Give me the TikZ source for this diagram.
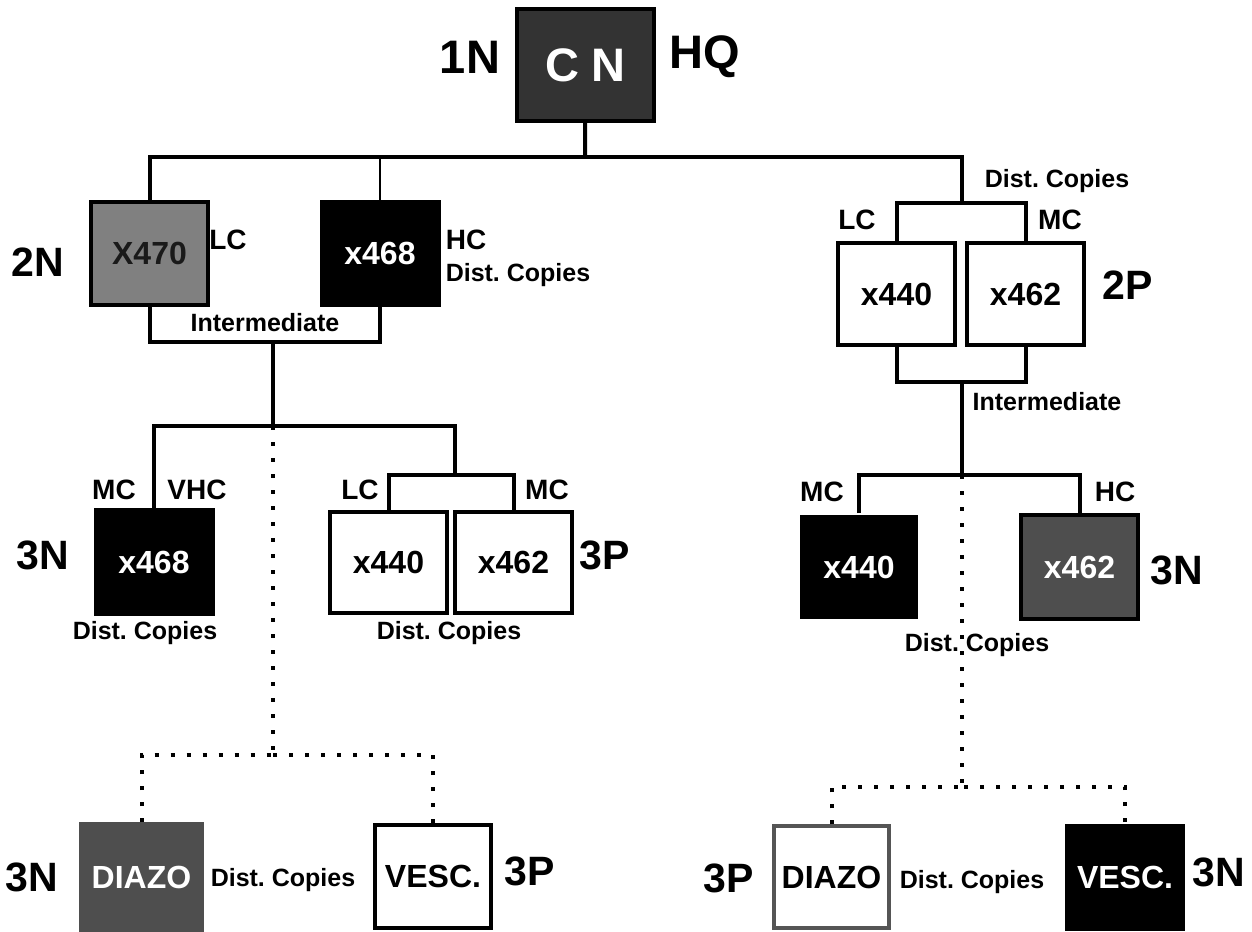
\documentclass[tikz,border=0pt]{standalone}
\usepackage{fontspec}
\setmainfont{Liberation Sans}
\usepackage{tikz}
\usetikzlibrary{positioning}
\definecolor{ink}{RGB}{0,0,0}
\definecolor{hqfill}{RGB}{51,51,51}
\definecolor{lowfill}{RGB}{128,128,128}
\definecolor{highfill}{RGB}{78,78,78}
\definecolor{lowtext}{RGB}{26,26,26}
\definecolor{edgegray}{RGB}{85,85,85}
\tikzset{
    unit/.style={
        rectangle,
        draw=ink,
        line width=4pt,
        fill=white,
        text=ink,
        minimum width=117pt,
        minimum height=103pt,
        inner sep=0pt,
        font=\fontsize{32}{32}\selectfont\bfseries
    },
    unitdark/.style={unit, fill=ink, text=white},
    unitgray/.style={unit, fill=highfill, text=white},
    tier/.style={
        font=\fontsize{41}{41}\selectfont\bfseries,
        text=ink,
        inner sep=0pt
    },
    grade/.style={
        font=\fontsize{28}{28}\selectfont\bfseries,
        text=ink,
        inner sep=0pt
    },
    remark/.style={
        font=\fontsize{25}{25}\selectfont\bfseries,
        text=ink,
        inner sep=0pt
    },
    link/.style={draw=ink, line width=4pt},
    thinlink/.style={draw=ink, line width=1.6pt},
    copylink/.style={draw=ink, line width=4pt, dash pattern=on 4pt off 12pt}
}

\begin{document}
\begin{tikzpicture}[x=1pt, y=-1pt]

\useasboundingbox (0,0) rectangle (1252,931);

% === HEADQUARTERS ===
\node[unit, fill=hqfill, text=white, minimum width=137pt, minimum height=112pt,
    font=\fontsize{47}{47}\selectfont\bfseries] (cn) at (585.5,65) {C N};
\node[tier, font=\fontsize{47}{47}\selectfont\bfseries] (cnlvl) at (470,57) {1N};
\node[tier, font=\fontsize{47}{47}\selectfont\bfseries] (cnhq) at (705,57) {HQ};

\coordinate (bus1) at (585,157);

% === LEFT BRANCH: second generation ===
\node[unit, fill=lowfill, text=lowtext] (xa) at (149.5,253) {X470};
\node[unitdark] (xb) at (380,253) {x468};
\node[tier] (xalvl) at (38,262) {2N};
\node[grade] (xagr) at (228,240) {LC};
\node[grade] (xbgr) at (466,240) {HC};
\node[remark] (xbcp) at (518,275) {Dist.\ Copies};

\draw[link] (cn) -- (bus1);
\draw[link] (xa) |- (bus1);
\draw[thinlink] (xb) -- (xb |- bus1);

\coordinate (lmid) at (273,342);
\draw[link] (xa) |- (lmid);
\draw[link] (xb) |- (lmid);
\node[remark] (lint) at (265,323) {Intermediate};

% === LEFT BRANCH: third generation ===
\coordinate (lbus) at (273,426);
\coordinate (lsub) at (455,475);
\draw[link] (lmid) -- (lbus);

\node[unitdark, minimum height=104pt] (xc) at (154,562) {x468};
\node[unit, minimum height=101pt] (xd) at (388.5,562.5) {x440};
\node[unit, minimum height=101pt] (xe) at (513.5,562.5) {x462};

\draw[link] (xc) |- (lbus);
\draw[link] (lbus) -| (lsub);
\draw[link] (xd) |- (lsub);
\draw[link] (xe) |- (lsub);

\node[grade] (xcgra) at (114,490) {MC};
\node[grade] (xcgrb) at (197,490) {VHC};
\node[tier] (xclvl) at (43,555) {3N};
\node[remark] (xccp) at (145,633) {Dist.\ Copies};
\node[grade] (xdgr) at (360,490) {LC};
\node[grade] (xegr) at (547,490) {MC};
\node[tier] (xelvl) at (605,555) {3P};
\node[remark] (xdcp) at (449,633) {Dist.\ Copies};

% === LEFT BRANCH: print copies ===
\coordinate (ldot) at (273,755);
\node[unitgray, draw=highfill, minimum width=121pt, minimum height=107pt] (da) at (141.5,877.5) {DIAZO};
\node[unit, minimum width=116pt] (va) at (433,876.5) {VESC.};

\draw[copylink] (lbus) -- (ldot);
\draw[copylink] (da) |- (ldot);
\draw[copylink] (va) |- (ldot);

\node[tier] (dalvl) at (32,877) {3N};
\node[remark] (dacp) at (283,880) {Dist.\ Copies};
\node[tier] (valvl) at (530,871) {3P};

% === RIGHT BRANCH: second generation ===
\coordinate (rtop) at (962,203);
\node[unit, minimum height=102pt] (ya) at (896.5,294) {x440};
\node[unit, minimum height=102pt] (yb) at (1025.5,294) {x462};

\draw[link] (bus1) -| (rtop);
\draw[link] (ya) |- (rtop);
\draw[link] (yb) |- (rtop);

\node[remark] (ycp) at (1057,181) {Dist.\ Copies};
\node[grade] (yagr) at (857,220) {LC};
\node[grade] (ybgr) at (1060,220) {MC};
\node[tier] (yblvl) at (1128,285) {2P};

\coordinate (rmid) at (962,382);
\draw[link] (ya) |- (rmid);
\draw[link] (yb) |- (rmid);
\node[remark] (rint) at (1047,402) {Intermediate};

% === RIGHT BRANCH: third generation ===
\coordinate (rbus) at (962,475);
\draw[link] (rmid) -- (rbus);

\node[unitdark, draw=none, minimum width=118pt, minimum height=104pt] (yc) at (859,567) {x440};
\node[unitgray, minimum height=104pt] (yd) at (1079.5,567) {x462};

\draw[link] (yc) |- (rbus);
\draw[link] (yd) |- (rbus);

\node[grade] (ycgr) at (822,492) {MC};
\node[grade] (ydgr) at (1115,492) {HC};
\node[tier] (ydlvl) at (1177,570) {3N};

% === RIGHT BRANCH: print copies ===
\coordinate (rdot) at (962,787);
\draw[copylink] (rbus) -- (rdot);

\node[unit, draw=edgegray, line width=3.5pt, minimum width=115pt, minimum height=102pt] (db) at (831.5,877) {DIAZO};
\node[unitdark, draw=none, minimum width=120pt, minimum height=107pt] (vb) at (1125,877.5) {VESC.};

\draw[copylink] (db) |- (rdot);
\draw[copylink] (vb) |- (rdot);

\node[remark] (yccp) at (977,645) {Dist.\ Copies};
\node[tier] (dblvl) at (729,878) {3P};
\node[remark] (dbcp) at (972,882) {Dist.\ Copies};
\node[tier] (vblvl) at (1219,872) {3N};

\end{tikzpicture}
\end{document}
